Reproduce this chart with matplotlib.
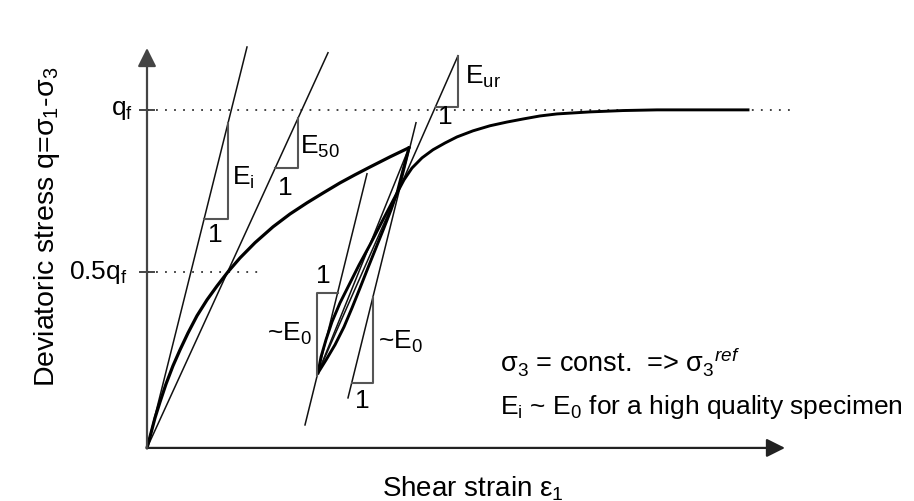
import matplotlib
matplotlib.use("Agg")
import matplotlib.pyplot as plt

plt.rcParams['font.family'] = ['Liberation Sans', 'DejaVu Sans']
plt.rcParams['mathtext.fontset'] = 'custom'
plt.rcParams['mathtext.rm'] = 'Liberation Sans'
plt.rcParams['mathtext.it'] = 'Liberation Sans:italic'
plt.rcParams['mathtext.bf'] = 'Liberation Sans:bold'

# strain (arbitrary units) and q / qf
q_f = 1.0
q_half = 0.52

# primary loading curve up to the unloading point
load_eps = [0.00, 0.04, 0.08, 0.13, 0.19, 0.26, 0.33, 0.41, 0.50, 0.60, 0.70, 0.81, 0.93, 1.08,
            1.26, 1.43, 1.60, 1.76, 1.93, 2.08, 2.23, 2.43, 2.62]
load_q = [0.000, 0.044, 0.089, 0.136, 0.189, 0.243, 0.290, 0.340, 0.391, 0.438, 0.479, 0.521,
          0.562, 0.607, 0.654, 0.692, 0.725, 0.754, 0.784, 0.808, 0.831, 0.861, 0.888]

# unloading branch
unload_eps = [2.62, 2.56, 2.50, 2.44, 2.37, 2.29, 2.21, 2.13, 2.05, 1.97, 1.88, 1.79, 1.71]
unload_q = [0.888, 0.822, 0.754, 0.704, 0.651, 0.592, 0.533, 0.473, 0.414, 0.358, 0.305, 0.260, 0.222]

# reloading branch and continuation to failure
reload_eps = [1.71, 1.74, 1.79, 1.85, 1.93, 2.02, 2.12, 2.23, 2.36, 2.50, 2.57, 2.65, 2.75, 2.86,
              2.98, 3.10, 3.26, 3.43, 3.60, 3.76, 3.93, 4.10, 4.43, 4.76, 5.10, 5.53, 6.01]
reload_q = [0.222, 0.269, 0.320, 0.373, 0.429, 0.482, 0.541, 0.601, 0.675, 0.754, 0.793, 0.828,
            0.858, 0.882, 0.902, 0.920, 0.938, 0.953, 0.964, 0.973, 0.982, 0.988, 0.994, 0.998,
            1.000, 1.000, 1.000]

# straight stiffness lines: (eps0, q0, eps1, q1)
line_Ei = (0.00, 0.000, 1.00, 1.186)
line_E50 = (0.00, 0.000, 1.81, 1.169)
line_Eur = (1.71, 0.222, 3.11, 1.160)
line_E0a = (1.58, 0.068, 2.20, 0.811)
line_E0b = (2.01, 0.148, 2.69, 0.962)
line_sec = (1.71, 0.222, 2.62, 0.888)

# slope triangles: line, eps at start, eps at end, shape
triangles = [
    (line_Ei, 0.57, 0.81, 'low'),
    (line_E50, 1.28, 1.51, 'low'),
    (line_Eur, 2.885, 3.11, 'low'),
    (line_E0a, 1.70, 1.906, 'high'),
    (line_E0b, 2.047, 2.26, 'low'),
]


def line_q(line, e):
    e0, q0, e1, q1 = line
    return q0 + (q1 - q0) * (e - e0) / (e1 - e0)


fig = plt.figure(figsize=(9.14, 5.01), dpi=100)
ax = fig.add_axes([0, 0, 1, 1])
ax.set_xlim(-1.47, 7.67)
ax.set_ylim(-0.157, 1.325)
ax.axis('off')

axis_col = '#444444'
ax.annotate('', xy=(6.38, 0), xytext=(0, 0),
            arrowprops=dict(arrowstyle='-|>', mutation_scale=28, lw=1.6, color='#222222',
                            shrinkA=0, shrinkB=0))
ax.annotate('', xy=(0, 1.183), xytext=(0, 0),
            arrowprops=dict(arrowstyle='-|>', mutation_scale=28, lw=1.6, color=axis_col,
                            shrinkA=0, shrinkB=0))

# ticks and dotted reference levels
for lev in (q_f, q_half):
    ax.plot([-0.07, 0.07], [lev, lev], color=axis_col, lw=1.4)
ax.plot([0, 6.43], [q_f, q_f], color='#333333', lw=1.3, ls=(0, (1, 4)))
ax.plot([0, 1.11], [q_half, q_half], color='#333333', lw=1.3, ls=(0, (1, 4)))

for ln in (line_Ei, line_E50, line_Eur, line_E0a, line_E0b, line_sec):
    ax.plot([ln[0], ln[2]], [ln[1], ln[3]], color='#111111', lw=1.1)

ax.plot(load_eps, load_q, color='black', lw=2.3, solid_capstyle='round', solid_joinstyle='round')
ax.plot(unload_eps, unload_q, color='black', lw=2.1, solid_joinstyle='round')
ax.plot(reload_eps, reload_q, color='black', lw=2.1, solid_joinstyle='round')

tri_col = '#555555'
for ln, ea, eb, shape in triangles:
    qa, qb = line_q(ln, ea), line_q(ln, eb)
    if shape == 'low':
        xs, ys = [ea, eb, eb], [qa, qa, qb]
    else:
        xs, ys = [ea, ea, eb], [qa, qb, qb]
    ax.plot(xs, ys, color=tri_col, lw=1.5)

fs = 19
ax.text(0.85, 0.80, r'E$_\mathrm{i}$', fontsize=fs, va='center', ha='left')
ax.text(0.68, 0.63, '1', fontsize=fs, va='center', ha='center')
ax.text(1.53, 0.89, r'E$_\mathrm{50}$', fontsize=fs, va='center', ha='left')
ax.text(1.38, 0.77, '1', fontsize=fs, va='center', ha='center')
ax.text(3.18, 1.098, r'E$_\mathrm{ur}$', fontsize=fs, va='center', ha='left')
ax.text(2.98, 0.98, '1', fontsize=fs, va='center', ha='center')
ax.text(1.76, 0.51, '1', fontsize=fs, va='center', ha='center')
ax.text(1.65, 0.337, r'~E$_\mathrm{0}$', fontsize=fs, va='center', ha='right')
ax.text(2.31, 0.315, r'~E$_\mathrm{0}$', fontsize=fs, va='center', ha='left')
ax.text(2.15, 0.14, '1', fontsize=fs, va='center', ha='center')

ax.text(-0.14, q_f, r'q$_\mathrm{f}$', fontsize=fs, va='center', ha='right')
ax.text(-0.19, q_half, r'0.5q$_\mathrm{f}$', fontsize=fs, va='center', ha='right')

ax.text(3.53, 0.255, r'$\mathrm{\sigma_3}$ = const.  => $\mathrm{\sigma_3}^{ref}$',
        fontsize=19.5, va='center', ha='left')
ax.text(3.53, 0.12, r'E$_\mathrm{i}$ ~ E$_\mathrm{0}$ for a high quality specimen',
        fontsize=19, va='center', ha='left')

ax.text(3.26, -0.12, r'Shear strain $\mathrm{\epsilon_1}$', fontsize=20, va='center', ha='center')
ax.text(-1.0, 0.655, r'Deviatoric stress q=$\mathrm{\sigma_1}$-$\mathrm{\sigma_3}$', fontsize=20.5,
        va='center', ha='center', rotation=90)

fig.savefig('out.png', dpi=100)
